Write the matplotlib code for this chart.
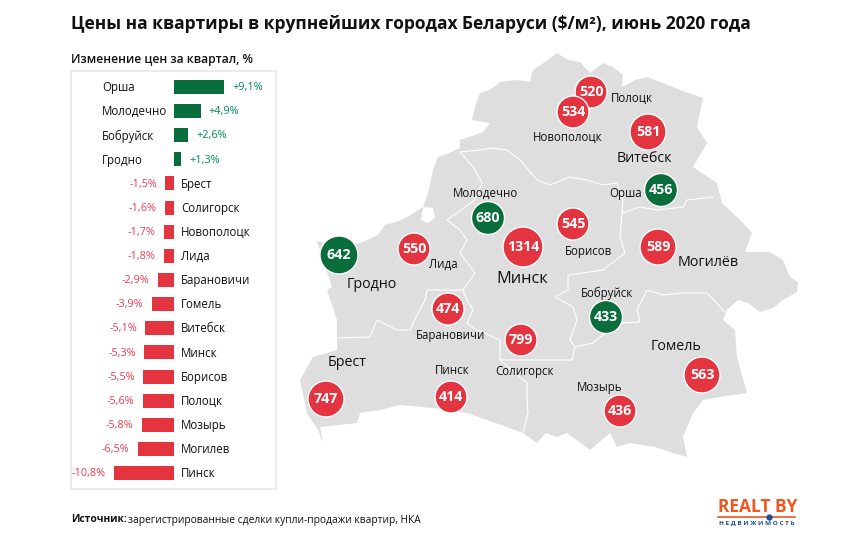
import matplotlib
matplotlib.use("Agg")
import matplotlib.pyplot as plt
from matplotlib.patches import Polygon, Circle

plt.rcParams['font.family'] = ['Open Sans', 'DejaVu Sans']

GREEN = '#0a6e3c'
RED = '#e33440'
GREY = '#dedede'

# quarterly change, %
change_cities = ['Орша', 'Молодечно', 'Бобруйск', 'Гродно', 'Брест', 'Солигорск', 'Новополоцк', 'Лида',
                 'Барановичи', 'Гомель', 'Витебск', 'Минск', 'Борисов', 'Полоцк', 'Мозырь', 'Могилев', 'Пинск']
change_values = [9.1, 4.9, 2.6, 1.3, -1.5, -1.6, -1.7, -1.8, -2.9, -3.9, -5.1, -5.3, -5.5, -5.6, -5.8, -6.5, -10.8]

# price per m2 on the map
price_values = [520, 534, 581, 456, 545, 589, 680, 1314, 642, 550, 474, 799, 747, 414, 433, 563, 436]
price_up = [0, 0, 0, 1, 0, 0, 1, 0, 1, 0, 0, 0, 0, 0, 1, 0, 0]

# circle layout in image pixels
circle_x = [591, 573, 648, 661, 573, 658, 488, 523, 339, 414, 448, 521, 326, 451, 606, 702, 620]
circle_y = [92, 112, 132, 190, 224, 247, 218, 247, 255, 249, 309, 340, 399, 397, 317, 375, 411]
circle_r = [16, 16, 18, 16.5, 16, 18, 16.5, 20, 19, 16, 16, 16, 18, 16, 16.5, 18, 16]

# map captions: text, x, y, size
captions = [('Полоцк', 632, 98, 8.3), ('Новополоцк', 568, 137, 8.3), ('Витебск', 644, 159, 10.3),
            ('Орша', 626, 193, 8.3), ('Могилёв', 708, 262, 10.3), ('Борисов', 589, 251, 8.3),
            ('Молодечно', 486, 193, 8.3), ('Минск', 522, 279, 11.8), ('Лида', 443, 264, 8.3),
            ('Гродно', 372, 284, 10.3), ('Барановичи', 451, 335, 8.3), ('Брест', 347, 363, 10.3),
            ('Пинск', 452, 371, 8.3), ('Солигорск', 525, 371, 8.3), ('Бобруйск', 607, 293, 8.3),
            ('Гомель', 676, 347, 10.3), ('Мозырь', 600, 388, 8.3)]

# outline of the country, image pixels
outline = [(317, 241), (330, 244), (345, 246), (363, 242), (378, 235), (385, 225), (396, 222), (407, 217),
           (423, 207), (428, 193), (431, 180), (433, 170), (438, 157), (449, 153), (460, 148), (460, 140),
           (472, 136), (483, 132), (490, 123), (472, 120), (475, 107), (480, 93), (490, 90), (500, 82),
           (517, 80), (530, 82), (533, 70), (545, 62), (557, 53), (568, 60), (580, 62), (590, 73),
           (603, 63), (613, 67), (623, 75), (622, 87), (635, 80), (647, 77), (663, 83), (680, 90),
           (703, 98), (700, 112), (697, 127), (707, 143), (693, 167), (717, 183), (722, 203), (740, 220),
           (752, 233), (745, 252), (770, 252), (783, 260), (790, 277), (798, 282), (797, 292), (783, 300),
           (773, 308), (760, 312), (748, 303), (738, 300), (727, 310), (723, 320), (735, 330), (737, 357),
           (747, 393), (720, 397), (703, 400), (693, 413), (683, 437), (687, 457), (673, 453), (655, 447),
           (630, 443), (617, 447), (610, 433), (590, 450), (567, 433), (557, 437), (546, 433), (537, 443),
           (523, 433), (507, 427), (487, 420), (467, 413), (433, 408), (400, 405), (380, 410), (360, 413),
           (357, 423), (320, 427), (323, 443), (318, 430), (307, 413), (300, 380), (313, 357), (337, 350),
           (337, 320), (327, 290), (332, 287)]
enclave = [(423, 207), (433, 208), (435, 218), (428, 223), (421, 220), (422, 213)]

# region borders, image pixels
borders = [
    [(460, 152), (473, 167), (482, 183), (475, 200), (447, 220), (460, 230), (467, 240), (460, 253), (475, 273),
     (463, 290), (427, 290), (425, 300), (413, 323), (410, 330), (397, 330), (377, 320), (370, 337), (338, 338)],
    [(463, 290), (467, 300), (473, 310), (467, 323), (473, 328), (500, 340), (500, 360), (527, 383), (527, 397),
     (528, 413), (523, 433)],
    [(460, 152), (480, 150), (490, 148), (507, 150), (520, 160), (537, 180), (550, 185), (570, 177), (587, 180),
     (603, 185), (617, 183), (623, 200), (622, 213), (640, 207), (657, 210), (683, 207), (687, 200), (713, 197)],
    [(622, 213), (620, 237), (625, 253), (603, 270), (568, 275), (568, 290), (555, 297), (573, 307), (577, 320),
     (570, 340), (575, 347), (572, 360), (548, 360), (517, 360), (500, 360)],
    [(575, 347), (593, 343), (600, 337), (623, 323), (640, 322), (637, 310), (647, 290), (663, 295), (683, 293),
     (707, 293), (725, 312)],
]

fig = plt.figure(figsize=(8.65, 5.39), dpi=100)
ax = fig.add_axes([0, 0, 1, 1])
ax.set_xlim(0, 865)
ax.set_ylim(539, 0)
ax.axis('off')

ax.add_patch(Polygon(outline, closed=True, fc=GREY, ec='none', zorder=1))
ax.add_patch(Polygon(enclave, closed=True, fc='white', ec='none', zorder=2))
for b in borders:
    ax.plot([p[0] for p in b], [p[1] for p in b], color='white', lw=0.8, zorder=2)

for i in range(len(price_values)):
    col = GREEN if price_up[i] else RED
    ax.add_patch(Circle((circle_x[i], circle_y[i]), circle_r[i], fc=col, ec='white', lw=1.0, zorder=3))
    ax.text(circle_x[i], circle_y[i], str(price_values[i]), color='white', fontsize=10.3, fontweight='bold',
            ha='center', va='center', zorder=4)

for name, x, y, size in captions:
    ax.text(x, y, name, fontsize=size, color='#111111', ha='center', va='center', zorder=4)

ax.text(71, 24, 'Цены на квартиры в крупнейших городах Беларуси ($/м²), июнь 2020 года', fontsize=12.5,
        fontweight='bold', color='#111111', ha='left', va='center')
ax.text(71, 59, 'Изменение цен за квартал, %', fontsize=8.7, fontweight='semibold', color='#111111',
        ha='left', va='center')
ax.text(71, 520, 'Источник:', fontsize=7.4, fontweight='bold', color='#111111', ha='left', va='center')
ax.text(128, 520, 'зарегистрированные сделки купли-продажи квартир, НКА', fontsize=7.4, color='#111111',
        ha='left', va='center')

# logo
ax.text(718, 507, 'REALT BY', fontsize=12.5, fontweight='bold', color='#f0561d', ha='left', va='center')
ax.plot([718, 795], [517, 517], color='#f0561d', lw=1.2)
ax.plot([769], [517], 'o', color='#1c4c9c', ms=3.5)
ax.text(756.5, 523.5, 'Н Е Д В И Ж И М О С Т Ь', fontsize=4.6, fontweight='bold', color='#1c4c9c',
        ha='center', va='center')

# bar panel sits in its own axes, zero at the centre of the box
bx = fig.add_axes([71 / 865, 1 - 489 / 539, 205 / 865, 418 / 539])
bx.set_xlim(-18.6, 18.6)
bx.set_ylim(16.66, -0.66)
bx.set_xticks([])
bx.set_yticks([])
for s in bx.spines.values():
    s.set_color('#e8e8e8')
    s.set_linewidth(1.2)

for i, v in enumerate(change_values):
    label = f'{v:+.1f}%'.replace('.', ',')
    if v > 0:
        bx.barh(i, v, height=0.58, color=GREEN)
        bx.text(-13, i + 0.03, change_cities[i], fontsize=8.3, color='#111111', ha='left', va='center')
        bx.annotate(label, (v, i + 0.03), xytext=(6, 0), textcoords='offset points', fontsize=7.8,
                    color='#00885a', ha='left', va='center')
    else:
        bx.barh(i, v, height=0.58, color=RED)
        bx.text(1.35, i + 0.03, change_cities[i], fontsize=8.3, color='#111111', ha='left', va='center')
        bx.annotate(label, (v, i + 0.03), xytext=(-6, 0), textcoords='offset points', fontsize=7.8,
                    color='#ef3b50', ha='right', va='center')

fig.savefig('out.png', dpi=100)
